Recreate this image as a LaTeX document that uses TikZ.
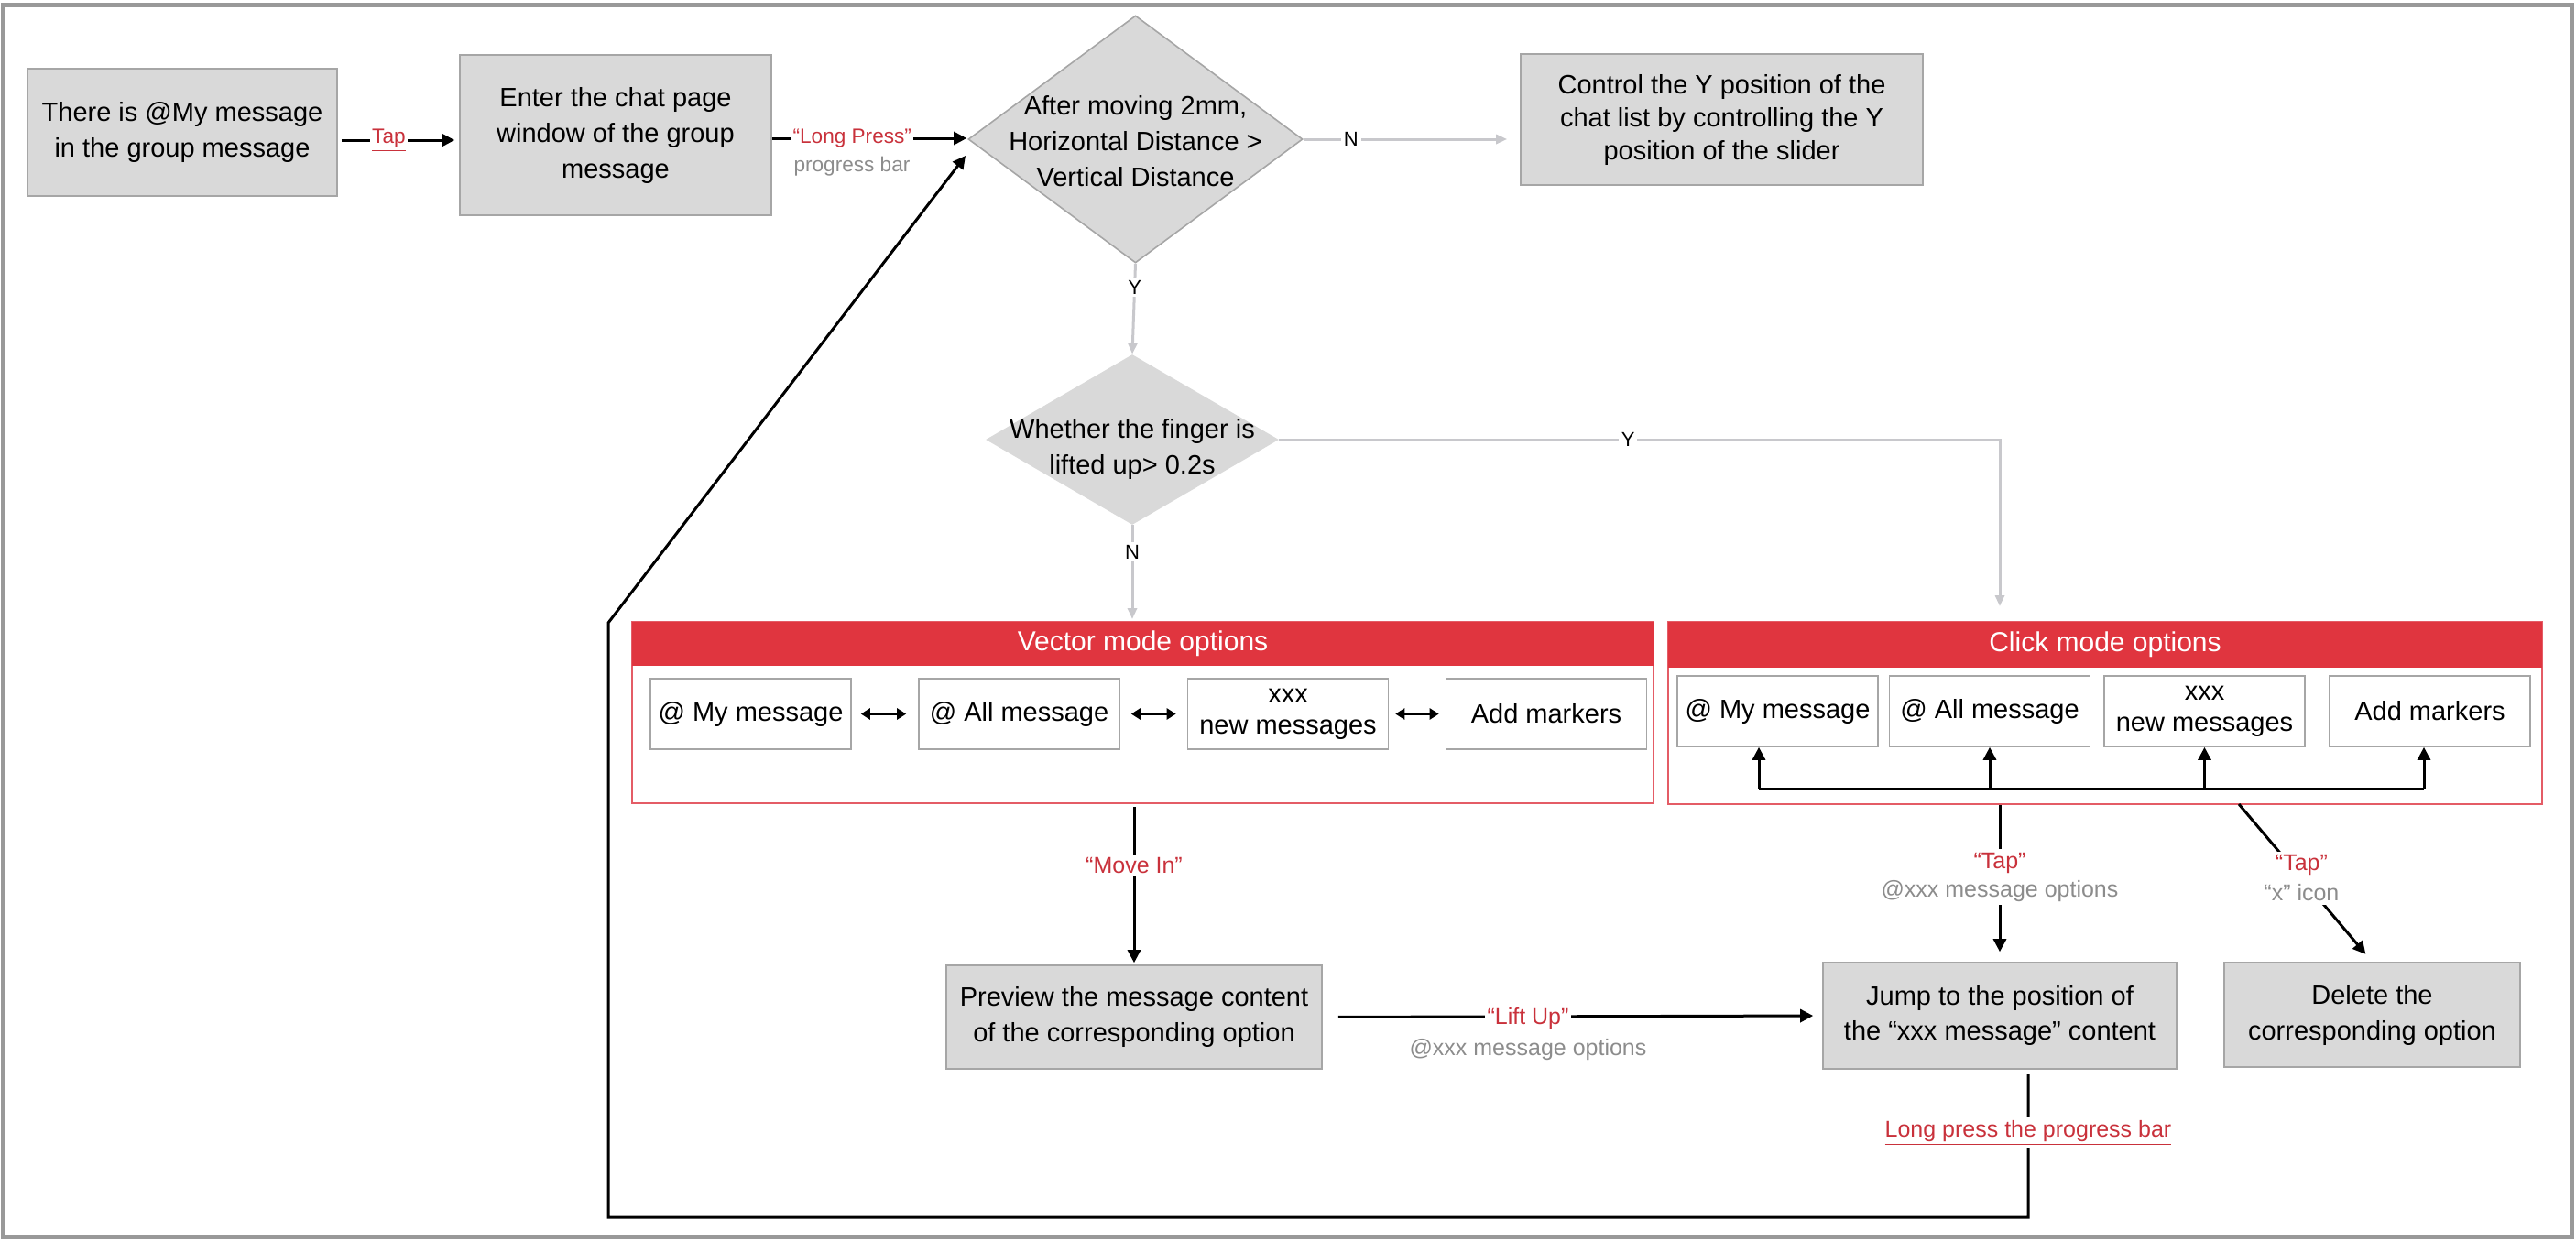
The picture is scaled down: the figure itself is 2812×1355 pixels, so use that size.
\documentclass[tikz,border=0pt]{standalone}
\usepackage{fontspec}
\setmainfont{Liberation Sans}
\usetikzlibrary{arrows.meta,shapes.geometric}
\definecolor{boxfill}{HTML}{D9D9D9}
\definecolor{boxedge}{HTML}{A6A6A6}
\definecolor{frame}{HTML}{999999}
\definecolor{hdr}{HTML}{E0353F}
\definecolor{pedge}{HTML}{E45C66}
\definecolor{redtxt}{HTML}{C9313B}
\definecolor{graytxt}{HTML}{8C8C8C}
\definecolor{gline}{HTML}{C8C8CC}
\begin{document}
\begin{tikzpicture}[x=0.5pt,y=-0.5pt,
  box/.style={rectangle, draw=boxedge, fill=boxfill, line width=0.8pt, align=center, inner sep=0pt, font=\fontsize{14.5}{19.5}\selectfont},
  dia/.style={diamond, fill=boxfill, inner sep=0pt},
  dtext/.style={align=center, inner sep=0pt, font=\fontsize{14.5}{19.5}\selectfont},
  opt/.style={rectangle, draw=boxedge, fill=white, line width=0.8pt, align=center, inner sep=0pt, minimum width=109.5pt, minimum height=38.5pt, font=\fontsize{14.5}{17}\selectfont},
  panel/.style={rectangle, draw=pedge, line width=1pt, inner sep=0pt},
  hdrbox/.style={rectangle, fill=hdr, text=white, inner sep=0pt, font=\fontsize{15}{18}\selectfont},
  arr/.style={draw=black, line width=1.5pt, -{Triangle[length=7pt,width=7pt]}},
  dbl/.style={draw=black, line width=1.5pt, {Triangle[length=5pt,width=6pt]}-{Triangle[length=5pt,width=6pt]}},
  garr/.style={draw=gline, line width=1.5pt, -{Triangle[length=6pt,width=5pt]}},
  blk/.style={draw=black, line width=1.5pt},
  yn/.style={fill=white, inner sep=1.5pt, font=\fontsize{11}{13}\selectfont},
  rlbl/.style={text=redtxt, fill=white, inner sep=1pt, font=\fontsize{11.3}{13}\selectfont},
  glbl/.style={text=graytxt, inner sep=1pt, font=\fontsize{11.3}{13}\selectfont},
  rlblb/.style={text=redtxt, fill=white, inner sep=1.5pt, font=\fontsize{12.5}{15}\selectfont},
  glblb/.style={text=graytxt, inner sep=1pt, font=\fontsize{12.5}{15}\selectfont},
  twolbl/.style={fill=white, align=center, inner sep=2pt, font=\fontsize{12.5}{15.5}\selectfont}
]
\useasboundingbox (0,0) rectangle (2812,1355);
\draw[frame, line width=2.5pt] (3,5.5) rectangle (2807.5,1350.5);

% main boxes
\node[box, minimum width=169pt, minimum height=69.5pt] (b1) at (199,144.5) {There is @My message\\in the group message};
\node[box, minimum width=170pt, minimum height=87.5pt] (b2) at (672,147.5) {Enter the chat page\\window of the group\\message};
\node[box, minimum width=219.5pt, minimum height=71.5pt, font=\fontsize{14.5}{18}\selectfont] (ctl) at (1879.5,130.5) {Control the Y position of the\\chat list by controlling the Y\\position of the slider};

% diamonds
\node[dia, draw=boxedge, line width=0.8pt, minimum width=182.5pt, minimum height=135pt] (d1) at (1239.5,152) {};
\node[dtext] (d1t) at (1239.5,154) {After moving 2mm,\\Horizontal Distance >\\Vertical Distance};
\node[dia, minimum width=160pt, minimum height=93pt] (d2) at (1236,480) {};
\node[dtext] (d2t) at (1236,490) {Whether the finger is\\lifted up> 0.2s};

% panels
\node[panel, minimum width=557.5pt, minimum height=99pt] (vec) at (1247.5,778) {};
\node[hdrbox, minimum width=557.5pt, minimum height=24pt] (vech) at (1247.5,703) {Vector mode options};
\node[panel, minimum width=477pt, minimum height=99.5pt] (clk) at (2298,778.5) {};
\node[hdrbox, minimum width=477pt, minimum height=25pt] (clkh) at (2298,704) {Click mode options};

\node[opt] (v1) at (819.5,779.5) {@ My message};
\node[opt] (v2) at (1112.5,779.5) {@ All message};
\node[opt] (v3) at (1406,779.5) {xxx\\new messages};
\node[opt] (v4) at (1688,779.5) {Add markers};
\node[opt] (c1) at (1940.5,776.5) {@ My message};
\node[opt] (c2) at (2172,776.5) {@ All message};
\node[opt] (c3) at (2406.5,776.5) {xxx\\new messages};
\node[opt] (c4) at (2652.5,776.5) {Add markers};

% lower boxes
\node[box, minimum width=205pt, minimum height=56.5pt] (prev) at (1238,1110.5) {Preview the message content\\of the corresponding option};
\node[box, minimum width=193pt, minimum height=58pt, font=\fontsize{14.5}{19}\selectfont] (jump) at (2183,1109) {Jump to the position of\\the “xxx message” content};
\node[box, minimum width=161.5pt, minimum height=57pt] (del) at (2589.5,1108) {Delete the\\corresponding option};

% coordinates
\coordinate (bL) at (1920,861);
\coordinate (bR) at (2646,861);
\coordinate (xs) at (2444,878);
\coordinate (lpA) at (2214,1173);
\coordinate (lpB) at (664,1329);
\coordinate (lpC) at (664,680);
\coordinate (lpD) at (1054,170);
\coordinate (tapy) at (0,153);
\coordinate (lpy) at (0,151);

% top flow
\draw[arr, shorten <=2pt, shorten >=2.5pt] (b1.east |- tapy) -- node[rlbl, pos=0.42] {\underline{Tap}} (b2.west |- tapy);
\draw[arr, shorten >=0.5pt] (b2.east |- lpy) -- node[rlbl, pos=0.41] {“Long Press”} (d1.west |- lpy);
\node[glbl] (pb) at (930,182) {progress bar};

% gray decisions
\draw[garr, shorten >=7pt] (d1.east) -- node[yn, pos=0.22] {N} (d1.east -| ctl.west);
\draw[garr] (d1.south) -- node[yn, pos=0.26] {Y} (d2.north);
\draw[garr, shorten >=8pt] (d2.east) -| node[yn, pos=0.242] {Y} (clk.north -| jump.north);
\draw[garr, shorten >=1pt] (d2.south) -- node[yn, pos=0.28] {N} (d2.south |- vec.north);

% vector arrows
\draw[dbl, shorten <=5pt, shorten >=6.5pt] (v1.east) -- (v2.west);
\draw[dbl, shorten <=6pt, shorten >=6pt] (v2.east) -- (v3.west);
\draw[dbl, shorten <=3.5pt, shorten >=3.5pt] (v3.east) -- (v4.west);

% click bus
\draw[blk] (bL) -- (bR);
\draw[arr] (bL) -- (bL |- c1.south);
\draw[arr] (c2.south |- bL) -- (c2.south);
\draw[arr] (c3.south |- bL) -- (c3.south);
\draw[arr] (bR) -- (bR |- c4.south);

% lower flow
\draw[arr, shorten >=5.5pt] (jump.north |- clk.south) -- node[twolbl, pos=0.46] {\textcolor{redtxt}{“Tap”}\\\textcolor{graytxt}{@xxx message options}} (jump.north);
\draw[arr, shorten >=5.5pt] (xs) -- node[twolbl, pos=0.47, font=\fontsize{12.5}{16.5}\selectfont] {\textcolor{redtxt}{“Tap”}\\\textcolor{graytxt}{“x” icon}} (del.north);
\draw[arr, shorten <=1.5pt, shorten >=1pt] (prev.north |- vec.south) -- node[rlblb, pos=0.38] {“Move In”} (prev.north);
\draw[arr, shorten <=8.5pt, shorten >=5pt] (prev.east) -- (jump.west);
\node[rlblb] (lu) at (1668,1112) {“Lift Up”};
\node[glblb] (lug) at (1668,1146) {@xxx message options};

% long press loop
\draw[arr] (lpA) |- (lpB) -- (lpC) -- (lpD);
\node[rlblb] (lp) at (2214,1237) {\underline{Long press the progress bar}};
\end{tikzpicture}
\end{document}
